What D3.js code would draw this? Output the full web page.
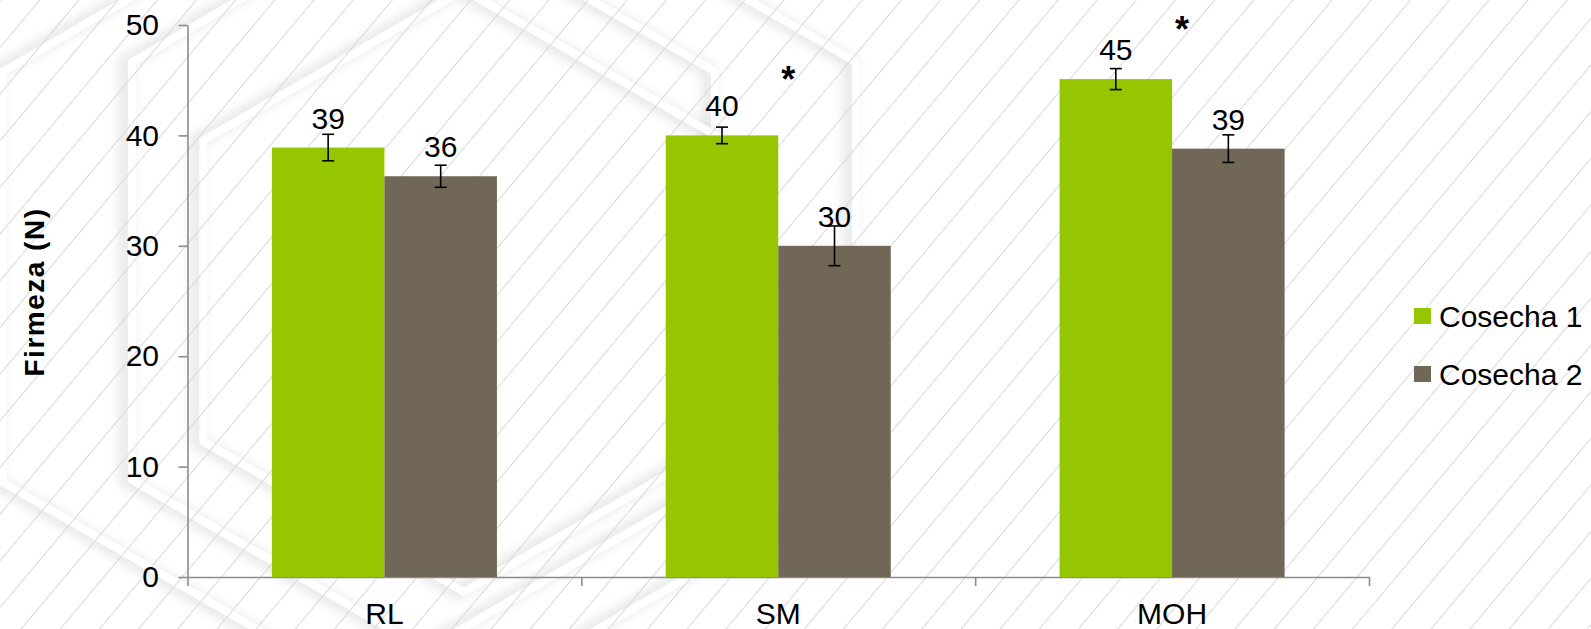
<!DOCTYPE html>
<html>
<head>
<meta charset="utf-8">
<script src="https://cdn.jsdelivr.net/npm/d3@7"></script>
<style>
  html, body { margin: 0; padding: 0; background: #ffffff; }
  svg { display: block; }
  text { font-family: "Liberation Sans", Arial, sans-serif; fill: #000; }
</style>
</head>
<body>
<svg id="chart" width="1591" height="629"></svg>
<script>
// ---------- data ----------
const categories = ["RL", "SM", "MOH"];
const seriesNames = ["Cosecha 1", "Cosecha 2"];
const cosecha1 = [38.9, 40.0, 45.1];
const cosecha2 = [36.3, 30.0, 38.8];
const err1 = [1.2, 0.75, 0.95];
const err2 = [1.0, 1.8, 1.25];
const asterisks = [null, 45.8, 50.3];   // significance marks (value-axis position)
const yTicks = [0, 10, 20, 30, 40, 50];
const yTitle = "Firmeza (N)";

// ---------- layout ----------
const W = 1591, H = 629;
const plot = { left: 187.5, right: 1369, top: 25, bottom: 577 };
const colors = ["#95c600", "#716757"];
const font = 30;

const svg = d3.select("#chart");
const defs = svg.append("defs");

// background
svg.append("rect").attr("width", W).attr("height", H).attr("fill", "#ffffff");

// soft hexagon emboss shapes
const blur = defs.append("filter").attr("id", "soft").attr("x", "-20%").attr("y", "-20%").attr("width", "140%").attr("height", "140%");
blur.append("feGaussianBlur").attr("stdDeviation", 5);
function hexPts(cx, cy, R) {
  const pts = [];
  for (let i = 0; i < 6; i++) {
    const a = (Math.PI / 180) * (60 * i - 90);
    pts.push([cx + R * Math.cos(a), cy + R * Math.sin(a)]);
  }
  return pts;
}
const hexes = [
  { cx: 359, cy: 277, R: 411 },
  { cx: 494, cy: 271, R: 418 },
  { cx: 464, cy: 291, R: 301 }
];
const hexG = svg.append("g");
hexes.forEach(h => {
  const p = hexPts(h.cx, h.cy, h.R).map(d => d.join(",")).join(" ");
  hexG.append("polygon").attr("points", p).attr("fill", "none")
    .attr("stroke", "#000").attr("stroke-opacity", 0.08).attr("stroke-width", 16)
    .attr("transform", "translate(-6,0)").attr("filter", "url(#soft)");
  hexG.append("polygon").attr("points", p).attr("fill", "none")
    .attr("stroke", "#fff").attr("stroke-width", 8);
});

// diagonal hatch lines
const pat = defs.append("pattern").attr("id", "hatch")
  .attr("patternUnits", "userSpaceOnUse").attr("width", 30).attr("height", 30)
  .attr("patternTransform", "rotate(40)");
pat.append("line").attr("x1", 0.5).attr("y1", 0).attr("x2", 0.5).attr("y2", 30)
  .attr("stroke", "#d9d9d9").attr("stroke-width", 1);
svg.append("rect").attr("width", W).attr("height", H).attr("fill", "url(#hatch)");

// ---------- scales ----------
const y = d3.scaleLinear().domain([0, 50]).range([plot.bottom, plot.top]);
// Excel gap width 150% -> step = 3.5 bar widths
const step = (plot.right - plot.left) / categories.length;
const barW = step / 3.5;
const xb = d3.scaleLinear().domain([0, categories.length]).range([plot.left, plot.right]);
const groupStart = c => xb(categories.indexOf(c)) + barW * 0.75;
const xs = d3.scaleBand().domain(seriesNames).range([0, barW * 2]);

// ---------- axes ----------
const axisColor = "#8c8c8c";
const yAxis = svg.append("g").attr("transform", `translate(${plot.left},0)`)
  .call(d3.axisLeft(y).tickValues(yTicks).tickSize(9).tickSizeOuter(0).tickPadding(19.5));
yAxis.select(".domain").attr("stroke", axisColor).attr("stroke-width", 1.6);
yAxis.selectAll(".tick line").attr("stroke", axisColor).attr("stroke-width", 1.6);
yAxis.selectAll(".tick text").attr("font-size", font).attr("font-family", '"Liberation Sans", Arial, sans-serif').attr("fill", "#000");

const xAxis = svg.append("g").attr("transform", `translate(0,${plot.bottom})`)
  .call(d3.axisBottom(xb).tickValues(d3.range(categories.length + 1)).tickSize(9).tickSizeOuter(0).tickFormat(""));
xAxis.select(".domain").attr("stroke", axisColor).attr("stroke-width", 1.6);
xAxis.selectAll(".tick line").attr("stroke", axisColor).attr("stroke-width", 1.6);

// category labels
svg.append("g").selectAll("text").data(categories).join("text")
  .attr("x", (d, i) => xb(i + 0.5))
  .attr("y", 624)
  .attr("text-anchor", "middle")
  .attr("font-size", font)
  .text(d => d);

// y title
svg.append("text")
  .attr("transform", "translate(44,292) rotate(-90)")
  .attr("text-anchor", "middle")
  .attr("font-size", 28)
  .attr("font-weight", "bold")
  .attr("letter-spacing", 1.5)
  .text(yTitle);

// ---------- bars ----------
const series = [
  { name: seriesNames[0], values: cosecha1, err: err1, color: colors[0] },
  { name: seriesNames[1], values: cosecha2, err: err2, color: colors[1] }
];
const fmt = d3.format(".0f");
series.forEach(s => {
  const rows = categories.map((c, i) => ({ c, v: s.values[i], e: s.err[i] }));
  const g = svg.append("g");
  g.selectAll("rect").data(rows).join("rect")
    .attr("x", d => groupStart(d.c) + xs(s.name))
    .attr("y", d => y(d.v))
    .attr("width", xs.bandwidth())
    .attr("height", d => y(0) - y(d.v))
    .attr("fill", s.color);
  // error bars
  const cx = d => groupStart(d.c) + xs(s.name) + xs.bandwidth() / 2;
  const eg = g.append("g").attr("stroke", "#000").attr("stroke-width", 1.6);
  eg.selectAll("line.v").data(rows).join("line").attr("class", "v")
    .attr("x1", cx).attr("x2", cx).attr("y1", d => y(d.v + d.e)).attr("y2", d => y(d.v - d.e));
  eg.selectAll("line.t").data(rows).join("line").attr("class", "t")
    .attr("x1", d => cx(d) - 6).attr("x2", d => cx(d) + 6).attr("y1", d => y(d.v + d.e)).attr("y2", d => y(d.v + d.e));
  eg.selectAll("line.b").data(rows).join("line").attr("class", "b")
    .attr("x1", d => cx(d) - 6).attr("x2", d => cx(d) + 6).attr("y1", d => y(d.v - d.e)).attr("y2", d => y(d.v - d.e));
  // value labels
  g.selectAll("text").data(rows).join("text")
    .attr("x", cx)
    .attr("y", d => y(d.v) - 19)
    .attr("text-anchor", "middle")
    .attr("font-size", font)
    .text(d => fmt(d.v));
});

// significance asterisks
svg.append("g").selectAll("text")
  .data(categories.map((c, i) => ({ c, v: asterisks[i] })).filter(d => d.v !== null))
  .join("text")
  .attr("x", d => groupStart(d.c) + barW + 10)
  .attr("y", d => y(d.v) + 20.5)
  .attr("text-anchor", "middle")
  .attr("font-size", 36)
  .attr("font-weight", "bold")
  .text("*");

// ---------- legend ----------
const legend = svg.append("g").attr("transform", "translate(1414,0)");
const legendY = [316, 374];
series.forEach((s, i) => {
  legend.append("rect").attr("x", 0).attr("y", legendY[i] - 8).attr("width", 17).attr("height", 16).attr("fill", s.color);
  legend.append("text").attr("x", 25).attr("y", legendY[i] + 10.5).attr("font-size", font).text(s.name);
});
</script>
</body>
</html>
